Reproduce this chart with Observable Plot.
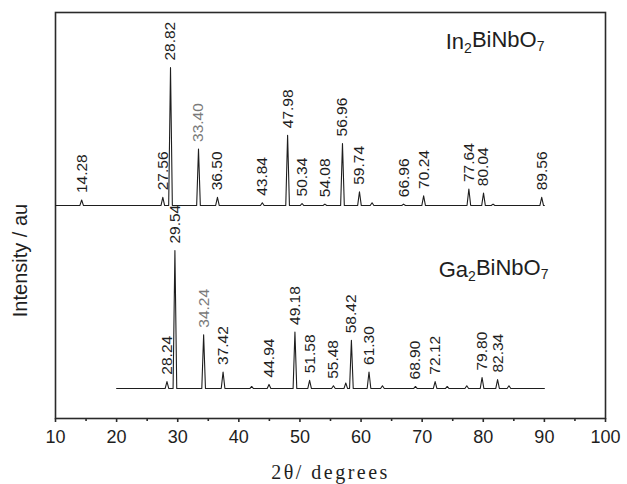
<!DOCTYPE html>
<html>
<head>
<meta charset="utf-8">
<script src="https://cdn.jsdelivr.net/npm/d3@7"></script>
<script src="https://cdn.jsdelivr.net/npm/@observablehq/plot@0.6"></script>
<style>
  html, body { margin: 0; padding: 0; background: #fff; }
  #chart svg { display: block; }
</style>
</head>
<body>
<div id="chart"></div>
<script>
// ---- data ----
const xTicks = [10, 20, 30, 40, 50, 60, 70, 80, 90, 100];
const xMinorTicks = [15, 25, 35, 45, 55, 65, 75, 85, 95];

// In2BiNbO7 pattern: peak positions (2θ) and relative intensities
const inPeakPos = [14.28, 27.56, 28.82, 33.40, 36.50, 43.84, 47.98, 50.34, 54.08, 56.96, 59.74, 61.8, 66.96, 70.24, 77.64, 80.04, 81.6, 89.56];
const inPeakInt = [4, 6, 100, 41, 6, 2, 51, 1.5, 1, 45, 10, 2, 1, 7, 12, 9, 1, 6];
const inLabels = ["14.28", "27.56", "28.82", "33.40", "36.50", "43.84", "47.98", "50.34", "54.08", "56.96", "59.74", "66.96", "70.24", "77.64", "80.04", "89.56"];
const inRange = [10, 90];

// Ga2BiNbO7 pattern
const gaPeakPos = [28.24, 29.54, 34.24, 37.42, 42.1, 44.94, 49.18, 51.58, 55.48, 57.5, 58.42, 61.30, 63.5, 68.90, 72.12, 74.1, 77.3, 79.80, 82.34, 84.2];
const gaPeakInt = [5, 100, 39, 12, 1.5, 3, 41, 6, 2, 4, 35, 12, 2, 1.5, 5, 1.5, 2, 8, 6.5, 2];
const gaLabels = ["28.24", "29.54", "34.24", "37.42", "44.94", "49.18", "51.58", "55.48", "58.42", "61.30", "68.90", "72.12", "79.80", "82.34"];
const gaRange = [20, 90];

const grayLabels = ["33.40", "34.24"];
const sampleNames = ["In2BiNbO7", "Ga2BiNbO7"];
const xTitle = "2θ/ degrees";
const yTitle = "Intensity / au";

// vertical stacking offset of the upper pattern (intensity units)
const offsetTop = 132.6;

// ---- build line profiles from the peak lists ----
function profile(pos, ints, range, offset) {
  const w = 0.3;
  const pts = [{x: range[0], y: offset}];
  pos.forEach((p, i) => {
    pts.push({x: p - w, y: offset});
    pts.push({x: p, y: offset + ints[i]});
    pts.push({x: p + w, y: offset});
  });
  pts.push({x: range[1], y: offset});
  return pts;
}
function labelRows(labels, pos, ints, offset) {
  return labels.map(l => {
    const i = pos.findIndex(p => Math.abs(p - +l) < 1e-6);
    return {label: l, x: +l, y: offset + ints[i], gray: grayLabels.includes(l)};
  });
}

const inLine = profile(inPeakPos, inPeakInt, inRange, offsetTop);
const gaLine = profile(gaPeakPos, gaPeakInt, gaRange, 0);
const lbls = labelRows(inLabels, inPeakPos, inPeakInt, offsetTop)
  .concat(labelRows(gaLabels, gaPeakPos, gaPeakInt, 0));

const ink = "#1e1e1e";

const chart = Plot.plot({
  width: 627,
  height: 484,
  marginLeft: 55,
  marginRight: 22,
  marginTop: 12,
  marginBottom: 66,
  style: {fontFamily: "'Liberation Sans', Arial, sans-serif", color: ink, background: "#fff"},
  x: {domain: [10, 100], label: null},
  y: {domain: [-21.7, 272.5], axis: null},
  marks: [
    Plot.frame({stroke: "#2a2a2a", strokeWidth: 1.6}),
    Plot.axisX({ticks: xTicks, tickSize: 4, tickPadding: 8, fontSize: 18, label: null, tickFormat: d => String(d), stroke: "#2a2a2a", strokeWidth: 1.6, fill: ink}),
    Plot.axisX({ticks: xMinorTicks, tickSize: 3, label: null, tickFormat: () => "", stroke: "#2a2a2a", strokeWidth: 1.6}),
    Plot.line(inLine, {x: "x", y: "y", stroke: ink, strokeWidth: 1.1}),
    Plot.line(gaLine, {x: "x", y: "y", stroke: ink, strokeWidth: 1.1}),
    Plot.text(lbls.filter(d => !d.gray), {x: "x", y: "y", text: "label", rotate: -90, textAnchor: "start", dy: -7, fontSize: 15.5, fill: ink}),
    Plot.text(lbls.filter(d => d.gray), {x: "x", y: "y", text: "label", rotate: -90, textAnchor: "start", dy: -7, fontSize: 15.5, fill: "#7a7a7a"}),
    Plot.text([sampleNames[0]], {frameAnchor: "top-right", text: d => d, textAnchor: "end", lineAnchor: "top", dx: -61, dy: 21, fontSize: 22, fill: ink}),
    Plot.text([sampleNames[1]], {frameAnchor: "top-right", text: d => d, textAnchor: "end", lineAnchor: "top", dx: -57, dy: 249, fontSize: 22, fill: ink}),
    Plot.text([yTitle], {frameAnchor: "left", text: d => d, rotate: -90, textAnchor: "middle", lineAnchor: "middle", dx: -35, dy: 45, fontSize: 20, fill: ink}),
    Plot.text([xTitle], {frameAnchor: "bottom", text: d => d, textAnchor: "middle", lineAnchor: "bottom", dy: 60, fontSize: 20, fontFamily: "'Liberation Serif', 'Times New Roman', serif", fill: ink})
  ]
});

// subscripts in chemical formulas
d3.select(chart).selectAll("text").filter(function() { return sampleNames.includes(this.textContent); })
  .each(function() {
    const t = d3.select(this);
    const s = this.textContent;
    t.text(null);
    const parts = s.split(/(\d)/).filter(p => p !== "");
    let sub = false;
    parts.forEach(p => {
      const isDigit = /\d/.test(p);
      const ts = t.append("tspan").text(p);
      if (isDigit && !sub) { ts.attr("dy", "0.3em").attr("font-size", 14); sub = true; }
      else if (!isDigit && sub) { ts.attr("dy", "-0.3em"); sub = false; }
      else if (isDigit) ts.attr("font-size", 14);
    });
  });
d3.select(chart).selectAll("text").filter(function() { return this.textContent === xTitle; })
  .attr("letter-spacing", "2.5px");

document.getElementById("chart").appendChild(chart);
</script>
</body>
</html>
